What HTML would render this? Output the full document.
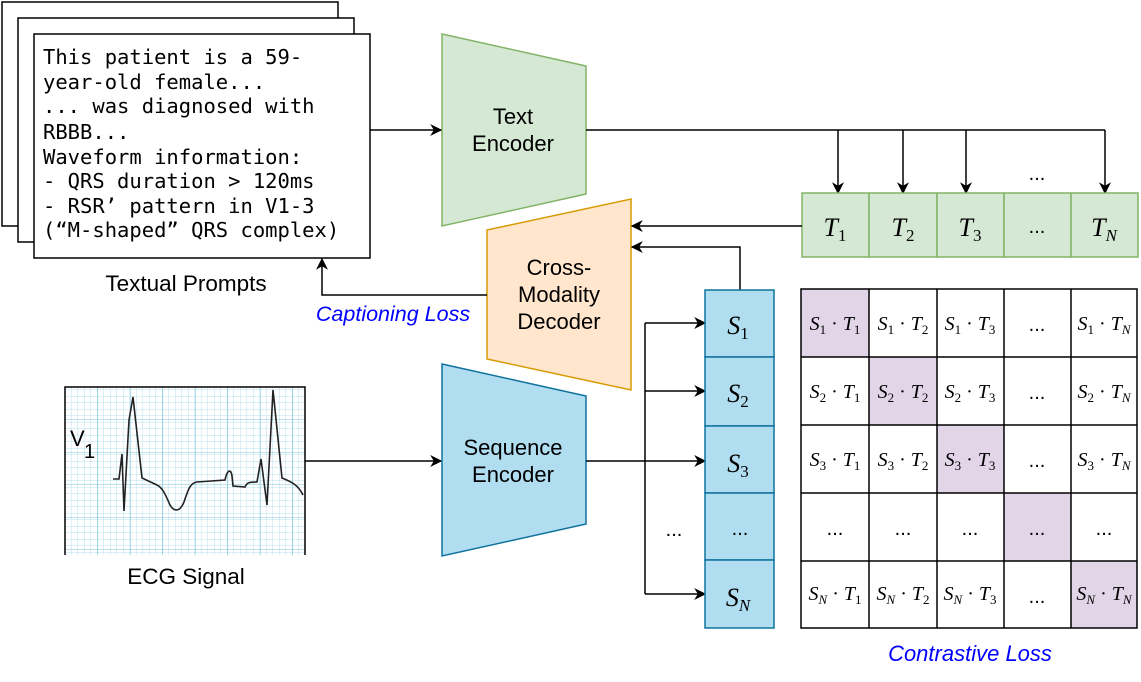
<!DOCTYPE html>
<html><head><meta charset="utf-8"><style>
html,body{margin:0;padding:0;background:#fff;}
svg{display:block;}
.sans{font-family:"Liberation Sans",sans-serif;}
.mono{font-family:"DejaVu Sans Mono","Liberation Mono",monospace;}
.m{font-family:"Liberation Serif",serif;font-style:italic;}
.sub{font-family:"Liberation Serif",serif;font-style:normal;}
</style></head><body>
<svg width="1141" height="682" viewBox="0 0 1141 682" xmlns="http://www.w3.org/2000/svg">
<defs>
<marker id="ar" viewBox="0 0 10 10" refX="9" refY="5" markerWidth="12" markerHeight="12" markerUnits="userSpaceOnUse" orient="auto"><path d="M0,0 L10,5 L0,10 L3,5 Z" fill="#000"/></marker>
<pattern id="sg" width="6.5" height="6.5" patternUnits="userSpaceOnUse"><path d="M6.5,0 V6.5 H0" fill="none" stroke="#b5dfec" stroke-width="0.9"/></pattern>
<pattern id="bg" width="32.5" height="32.5" patternUnits="userSpaceOnUse" x="65" y="387"><path d="M0,0 V32.5 M0,0 H32.5" fill="none" stroke="#7fc6dc" stroke-width="1.1"/></pattern>
</defs>

<rect x="2" y="2" width="336" height="224" fill="#fff" stroke="#000" stroke-width="1.5"/>
<rect x="18" y="18" width="336" height="224" fill="#fff" stroke="#000" stroke-width="1.5"/>
<rect x="34" y="34" width="336" height="224" fill="#fff" stroke="#000" stroke-width="1.5"/>
<g class="mono" font-size="20.5" fill="#000">
<text x="43" y="64">This patient is a 59-</text>
<text x="43" y="89">year-old female...</text>
<text x="43" y="113">... was diagnosed with</text>
<text x="43" y="139">RBBB...</text>
<text x="43" y="164">Waveform information:</text>
<text x="43" y="188">- QRS duration &gt; 120ms</text>
<text x="43" y="213">- RSR’ pattern in V1-3</text>
<text x="43" y="237">(“M-shaped” QRS complex)</text>
</g>
<text x="186" y="291" class="sans" font-size="22.5" text-anchor="middle">Textual Prompts</text>

<polygon points="442,34 586,66 586,194 442,226" fill="#d5e8d4" stroke="#82b366" stroke-width="1.5"/>
<text x="513" y="124" class="sans" font-size="22" text-anchor="middle">Text</text>
<text x="513" y="151" class="sans" font-size="22" text-anchor="middle">Encoder</text>
<line x1="370" y1="130" x2="441" y2="130" stroke="#000" stroke-width="1.5" marker-end="url(#ar)"/>

<path d="M586,130 H1105" fill="none" stroke="#000" stroke-width="1.5"/>
<line x1="838" y1="130" x2="838" y2="193" stroke="#000" stroke-width="1.5" marker-end="url(#ar)"/>
<line x1="903" y1="130" x2="903" y2="193" stroke="#000" stroke-width="1.5" marker-end="url(#ar)"/>
<line x1="966" y1="130" x2="966" y2="193" stroke="#000" stroke-width="1.5" marker-end="url(#ar)"/>
<line x1="1105" y1="130" x2="1105" y2="193" stroke="#000" stroke-width="1.5" marker-end="url(#ar)"/>
<text x="1037" y="180" class="sans" font-size="20" text-anchor="middle">...</text>

<g stroke="#82b366" stroke-width="1.5" fill="#d5e8d4">
<rect x="802" y="193" width="67" height="64"/><rect x="869" y="193" width="68" height="64"/>
<rect x="937" y="193" width="67" height="64"/><rect x="1004" y="193" width="67" height="64"/>
<rect x="1071" y="193" width="67" height="64"/>
</g>
<g font-size="26" text-anchor="middle">
<text x="835" y="236" class="m">T<tspan class="sub" font-size="17" dy="5">1</tspan></text>
<text x="903" y="236" class="m">T<tspan class="sub" font-size="17" dy="5">2</tspan></text>
<text x="970" y="236" class="m">T<tspan class="sub" font-size="17" dy="5">3</tspan></text>
<text x="1037" y="233" class="sans" font-size="20">...</text>
<text x="1104" y="236" class="m">T<tspan font-size="17" dy="5">N</tspan></text>
</g>

<polygon points="487,230 631,199 631,390 487,359" fill="#ffe6cc" stroke="#d79b00" stroke-width="1.5"/>
<text x="559" y="275" class="sans" font-size="22" text-anchor="middle">Cross-</text>
<text x="559" y="302" class="sans" font-size="22" text-anchor="middle">Modality</text>
<text x="559" y="329" class="sans" font-size="22" text-anchor="middle">Decoder</text>
<line x1="802" y1="226" x2="632" y2="226" stroke="#000" stroke-width="1.5" marker-end="url(#ar)"/>
<path d="M740,290 V247 H632" fill="none" stroke="#000" stroke-width="1.5" marker-end="url(#ar)"/>
<path d="M487,295 H322 V259" fill="none" stroke="#000" stroke-width="1.5" marker-end="url(#ar)"/>
<text x="393" y="321" class="sans" font-size="21.5" font-style="italic" fill="#0000ff" text-anchor="middle">Captioning Loss</text>

<rect x="65" y="387" width="240" height="168" fill="#fff"/>
<rect x="65" y="387" width="240" height="168" fill="url(#sg)"/>
<rect x="65" y="387" width="240" height="168" fill="url(#bg)"/>
<path d="M65,555 V387 H305 V555" fill="none" stroke="#000" stroke-width="1.5"/>
<text x="70" y="446" class="sans" font-size="22">V</text>
<text x="84" y="458" class="sans" font-size="20">1</text>
<path d="M113,479 L119,479 L122,454 L124,511 L129,420 L133,397 L142,478 L157,485 C163,488 166,496 170,505 C174,512 180,512 184,502 C188,490 190,483 197,482 L225,480 C227,470 231,468 232,476 L233,486 L245,487 C247,482 250,482 257,482 L261,459 L267,505 L273,390 L282,478 C292,482 298,485 303,495" fill="none" stroke="#222" stroke-width="1.6"/>
<text x="186" y="584" class="sans" font-size="22.5" text-anchor="middle">ECG Signal</text>
<line x1="305" y1="461" x2="441" y2="461" stroke="#000" stroke-width="1.5" marker-end="url(#ar)"/>

<polygon points="442,364 586,396 586,524 442,556" fill="#b1ddf0" stroke="#10739e" stroke-width="1.5"/>
<text x="513" y="455" class="sans" font-size="22" text-anchor="middle">Sequence</text>
<text x="513" y="482" class="sans" font-size="22" text-anchor="middle">Encoder</text>

<path d="M586,461 H645" fill="none" stroke="#000" stroke-width="1.5"/>
<path d="M645,323 V594" fill="none" stroke="#000" stroke-width="1.5"/>
<line x1="645" y1="323" x2="705" y2="323" stroke="#000" stroke-width="1.5" marker-end="url(#ar)"/>
<line x1="645" y1="391" x2="705" y2="391" stroke="#000" stroke-width="1.5" marker-end="url(#ar)"/>
<line x1="645" y1="461" x2="705" y2="461" stroke="#000" stroke-width="1.5" marker-end="url(#ar)"/>
<line x1="645" y1="594" x2="705" y2="594" stroke="#000" stroke-width="1.5" marker-end="url(#ar)"/>
<text x="674" y="536" class="sans" font-size="20" text-anchor="middle">...</text>

<g stroke="#10739e" stroke-width="1.5" fill="#b1ddf0">
<rect x="705" y="290" width="69" height="67"/><rect x="705" y="357" width="69" height="69"/>
<rect x="705" y="426" width="69" height="67"/><rect x="705" y="493" width="69" height="67"/>
<rect x="705" y="560" width="69" height="68"/>
</g>
<g font-size="26" text-anchor="middle">
<text x="738" y="334" class="m">S<tspan class="sub" font-size="17" dy="5">1</tspan></text>
<text x="738" y="402" class="m">S<tspan class="sub" font-size="17" dy="5">2</tspan></text>
<text x="738" y="472" class="m">S<tspan class="sub" font-size="17" dy="5">3</tspan></text>
<text x="740" y="535" class="sans" font-size="20">...</text>
<text x="738" y="606" class="m">S<tspan font-size="17" dy="5">N</tspan></text>
</g>

<g fill="#e1d5e7">
<rect x="801" y="289" width="68" height="68"/><rect x="869" y="357" width="68" height="68"/>
<rect x="937" y="425" width="67" height="68"/><rect x="1004" y="493" width="67" height="68"/>
<rect x="1071" y="561" width="66" height="67"/>
</g>
<g stroke="#000" stroke-width="1.5" fill="none">
<rect x="801" y="289" width="336" height="339"/>
<path d="M869,289 V628 M937,289 V628 M1004,289 V628 M1071,289 V628 M801,357 H1137 M801,425 H1137 M801,493 H1137 M801,561 H1137"/>
</g>
<g font-size="20" text-anchor="middle" class="m">
<text x="835" y="330">S<tspan class="sub" font-size="13" dy="4">1</tspan><tspan class="sub" dy="-4"> · </tspan>T<tspan class="sub" font-size="13" dy="4">1</tspan></text>
<text x="903" y="330">S<tspan class="sub" font-size="13" dy="4">1</tspan><tspan class="sub" dy="-4"> · </tspan>T<tspan class="sub" font-size="13" dy="4">2</tspan></text>
<text x="970" y="330">S<tspan class="sub" font-size="13" dy="4">1</tspan><tspan class="sub" dy="-4"> · </tspan>T<tspan class="sub" font-size="13" dy="4">3</tspan></text>
<text x="1104" y="330">S<tspan class="sub" font-size="13" dy="4">1</tspan><tspan class="sub" dy="-4"> · </tspan>T<tspan font-size="13" dy="4">N</tspan></text>
<text x="835" y="398">S<tspan class="sub" font-size="13" dy="4">2</tspan><tspan class="sub" dy="-4"> · </tspan>T<tspan class="sub" font-size="13" dy="4">1</tspan></text>
<text x="903" y="398">S<tspan class="sub" font-size="13" dy="4">2</tspan><tspan class="sub" dy="-4"> · </tspan>T<tspan class="sub" font-size="13" dy="4">2</tspan></text>
<text x="970" y="398">S<tspan class="sub" font-size="13" dy="4">2</tspan><tspan class="sub" dy="-4"> · </tspan>T<tspan class="sub" font-size="13" dy="4">3</tspan></text>
<text x="1104" y="398">S<tspan class="sub" font-size="13" dy="4">2</tspan><tspan class="sub" dy="-4"> · </tspan>T<tspan font-size="13" dy="4">N</tspan></text>
<text x="835" y="466">S<tspan class="sub" font-size="13" dy="4">3</tspan><tspan class="sub" dy="-4"> · </tspan>T<tspan class="sub" font-size="13" dy="4">1</tspan></text>
<text x="903" y="466">S<tspan class="sub" font-size="13" dy="4">3</tspan><tspan class="sub" dy="-4"> · </tspan>T<tspan class="sub" font-size="13" dy="4">2</tspan></text>
<text x="970" y="466">S<tspan class="sub" font-size="13" dy="4">3</tspan><tspan class="sub" dy="-4"> · </tspan>T<tspan class="sub" font-size="13" dy="4">3</tspan></text>
<text x="1104" y="466">S<tspan class="sub" font-size="13" dy="4">3</tspan><tspan class="sub" dy="-4"> · </tspan>T<tspan font-size="13" dy="4">N</tspan></text>
<text x="835" y="600">S<tspan font-size="13" dy="4">N</tspan><tspan class="sub" dy="-4"> · </tspan>T<tspan class="sub" font-size="13" dy="4">1</tspan></text>
<text x="903" y="600">S<tspan font-size="13" dy="4">N</tspan><tspan class="sub" dy="-4"> · </tspan>T<tspan class="sub" font-size="13" dy="4">2</tspan></text>
<text x="970" y="600">S<tspan font-size="13" dy="4">N</tspan><tspan class="sub" dy="-4"> · </tspan>T<tspan class="sub" font-size="13" dy="4">3</tspan></text>
<text x="1104" y="600">S<tspan font-size="13" dy="4">N</tspan><tspan class="sub" dy="-4"> · </tspan>T<tspan font-size="13" dy="4">N</tspan></text>
</g>
<g class="sans" font-size="20" text-anchor="middle">
<text x="1037" y="331">...</text><text x="1037" y="399">...</text><text x="1037" y="467">...</text><text x="1037" y="603">...</text>
<text x="835" y="535">...</text><text x="903" y="535">...</text><text x="970" y="535">...</text><text x="1037" y="535">...</text><text x="1104" y="535">...</text>
</g>
<text x="970" y="661" class="sans" font-size="22" font-style="italic" fill="#0000ff" text-anchor="middle">Contrastive Loss</text>
</svg>
</body></html>
